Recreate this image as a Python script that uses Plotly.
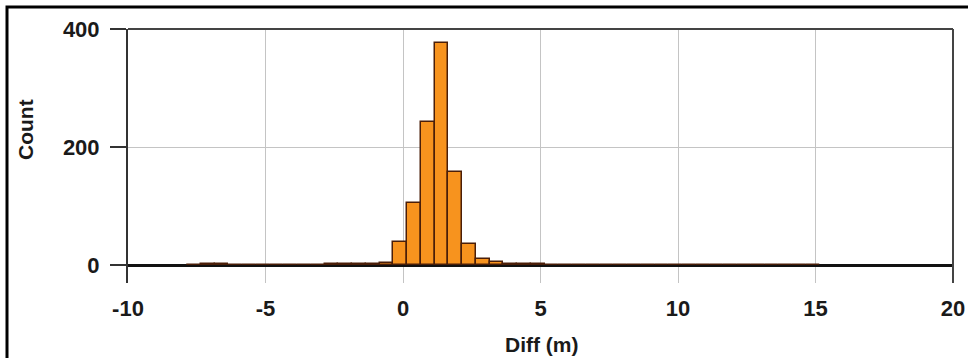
import plotly.graph_objects as go

# Histogram bins (centers, m) and counts
bin_centers = [-7.6, -7.1, -6.6, -6.1, -5.6, -5.1, -4.6, -4.1, -3.6, -3.1,
               -2.6, -2.1, -1.6, -1.1, -0.6, -0.1, 0.4, 0.9, 1.4, 1.9,
               2.4, 2.9, 3.4, 3.9, 4.4, 4.9, 5.4, 5.9, 6.4, 6.9,
               7.4, 7.9, 8.4, 8.9, 9.4, 9.9, 10.4, 10.9, 11.4, 11.9,
               12.4, 12.9, 13.4, 13.9, 14.4, 14.9]
counts = [1, 2, 2, 1, 1, 1, 1, 1, 1, 1,
          2, 2, 2, 3, 4, 40, 106, 243, 377, 158,
          36, 11, 5, 3, 2, 2, 1, 1, 1, 1,
          1, 1, 1, 1, 1, 1, 1, 1, 1, 1,
          1, 1, 1, 1, 1, 1]
bin_width = 0.5

x_ticks = [-10, -5, 0, 5, 10, 15, 20]
y_ticks = [0, 200, 400]

FONT = "Liberation Sans, Arial, sans-serif"

fig = go.Figure()
fig.add_trace(go.Bar(
    x=bin_centers, y=counts, width=bin_width,
    marker=dict(color="#F7931E", line=dict(color="#4a1e08", width=1.5)),
    showlegend=False,
))

L, R, T, B = 128, 15, 29, 75
W, H = 968, 358
pw, ph = W - L - R, H - T - B

def px(x):
    return (x - L) / pw

def py(y):
    return (H - B - y) / ph

fig.update_layout(
    width=W, height=H, autosize=False,
    margin=dict(l=L, r=R, t=T, b=B, pad=0),
    paper_bgcolor="white", plot_bgcolor="white",
    bargap=0,
    font=dict(family=FONT, size=22, color="#1a1a1a"),
    xaxis=dict(
        range=[-10, 20], tickvals=x_ticks, ticktext=[str(v) for v in x_ticks],
        automargin=False,
        showgrid=True, gridcolor="#c4c4c4", gridwidth=1,
        zeroline=False, showline=False, ticks="",
        ticklabelstandoff=10,
        tickfont=dict(family=FONT, size=22, color="#1a1a1a", weight="bold"),
    ),
    yaxis=dict(
        range=[-30, 400], tickvals=y_ticks,
        automargin=False,
        showgrid=True, gridcolor="#c4c4c4", gridwidth=1,
        zeroline=True, zerolinecolor="#111111", zerolinewidth=3,
        showline=True, linecolor="#333333", linewidth=2,
        ticks="outside", ticklen=16, tickcolor="#333333", tickwidth=1.5,
        ticklabelstandoff=6,
        tickfont=dict(family=FONT, size=22, color="#1a1a1a", weight="bold"),
    ),
    shapes=[
        # top border of plot
        dict(type="line", xref="paper", yref="paper", x0=0, x1=1, y0=1, y1=1,
             line=dict(color="#444444", width=2)),
        # right border of plot
        dict(type="line", xref="paper", yref="paper", x0=1, x1=1, y0=0, y1=1,
             line=dict(color="#444444", width=2)),
        # outer frame
        dict(type="rect", xref="paper", yref="paper",
             x0=px(7), x1=px(980), y0=py(370), y1=py(7),
             line=dict(color="black", width=3), fillcolor="rgba(0,0,0,0)"),
    ],
    annotations=[
        dict(text="<b>Count</b>", xref="paper", yref="paper",
             x=px(25), y=py(130), textangle=-90, showarrow=False,
             xanchor="center", yanchor="middle",
             font=dict(family=FONT, size=21, color="#1a1a1a")),
        dict(text="<b>Diff (m)</b>", xref="paper", yref="paper",
             x=px(541), y=py(344), showarrow=False,
             xanchor="center", yanchor="middle",
             font=dict(family=FONT, size=21, color="#1a1a1a")),
    ],
)

fig.write_html(
    "out.html",
    config={"displayModeBar": False, "responsive": False},
    default_width="968px", default_height="358px",
    post_script="document.body.style.margin='0';document.body.style.overflow='hidden';",
)
